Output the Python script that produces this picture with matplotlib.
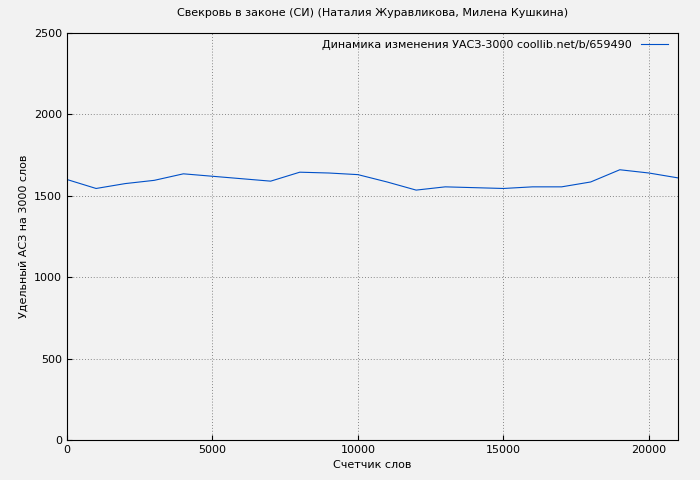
import matplotlib
matplotlib.use("Agg")
import matplotlib.pyplot as plt

words = [0,1000,2000,3000,4000,5000,6000,7000,8000,9000,10000,11000,12000,13000,14000,15000,16000,17000,18000,19000,20000,21000]
values = [1600,1545,1575,1595,1635,1620,1605,1590,1645,1640,1630,1585,1535,1555,1550,1545,1555,1555,1585,1660,1640,1610]

fig = plt.figure(figsize=(7,4.8), dpi=100, facecolor="#f2f2f2")
ax = fig.add_axes([67/700, 1-440/480, 611/700, 407/480], facecolor="#f2f2f2")
ax.plot(words, values, color="#0050c8", lw=0.8, label="Динамика изменения УАСЗ-3000 coollib.net/b/659490")
ax.set_xlim(0, 21000)
ax.set_ylim(0, 2500)
ax.set_xticks([0,5000,10000,15000,20000])
ax.set_yticks([0,500,1000,1500,2000,2500])
ax.grid(True, color="#888888", ls=(0,(1,2)), lw=0.7)
ax.tick_params(labelsize=8, direction="in")
ax.set_xlabel("Счетчик слов", fontsize=8)
ax.set_ylabel("Удельный АСЗ на 3000 слов", fontsize=8)
ax.set_title("Свекровь в законе (СИ) (Наталия Журавликова, Милена Кушкина)", fontsize=8, pad=12)
ax.legend(loc="upper right", frameon=False, fontsize=8, markerfirst=False, handlelength=2.5,
          borderaxespad=0.2, bbox_to_anchor=(0.995, 1.0))
fig.savefig("out.png", dpi=100, facecolor=fig.get_facecolor())
